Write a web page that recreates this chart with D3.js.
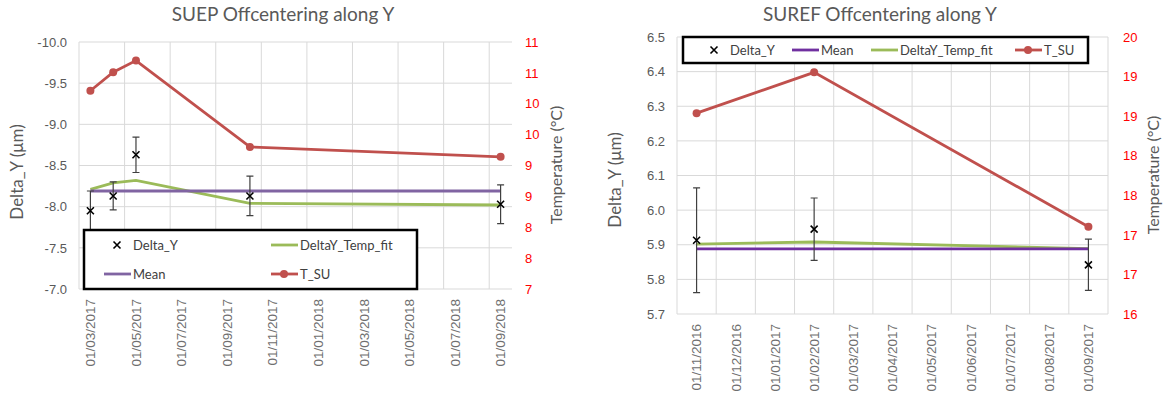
<!DOCTYPE html>
<html>
<head>
<meta charset="utf-8">
<script src="https://cdn.jsdelivr.net/npm/d3@7"></script>
<style>
  body { margin: 0; background: #fff; }
  svg { font-family: Lato, 'Open Sans', sans-serif; }
</style>
</head>
<body>
<script>
// ---- SUEP chart data ----
var suepMonths = ['03/2017', '04/2017', '05/2017', '06/2017', '07/2017', '08/2017', '09/2017',
  '10/2017', '11/2017', '12/2017', '01/2018', '02/2018', '03/2018', '04/2018', '05/2018',
  '06/2018', '07/2018', '08/2018', '09/2018'];
var suepTickLabels = ['01/03/2017', '01/05/2017', '01/07/2017', '01/09/2017', '01/11/2017',
  '01/01/2018', '01/03/2018', '01/05/2018', '01/07/2018', '01/09/2018'];
var suepDates = ['01/03/2017', '01/04/2017', '01/05/2017', '01/10/2017', '01/09/2018'];
var suepDeltaY = [-7.95, -8.13, -8.63, -8.13, -8.03];
var suepErr = [0.24, 0.17, 0.215, 0.24, 0.235];
var suepMean = [-8.19, -8.19];
var suepFit = [-8.21, -8.29, -8.32, -8.04, -8.02];
var suepTemp = [10.21, 10.51, 10.70, 9.30, 9.14];
var suepYTicks = [-10, -9.5, -9, -8.5, -8, -7.5, -7];
var suepTTicks = [7, 7.5, 8, 8.5, 9, 9.5, 10, 10.5, 11];

// ---- SUREF chart data ----
var surefMonths = ['11/2016', '12/2016', '01/2017', '02/2017', '03/2017', '04/2017', '05/2017',
  '06/2017', '07/2017', '08/2017', '09/2017'];
var surefTickLabels = ['01/11/2016', '01/12/2016', '01/01/2017', '01/02/2017', '01/03/2017',
  '01/04/2017', '01/05/2017', '01/06/2017', '01/07/2017', '01/08/2017', '01/09/2017'];
var surefDates = ['01/11/2016', '01/02/2017', '01/09/2017'];
var surefDeltaY = [5.913, 5.945, 5.842];
var surefErr = [0.151, 0.09, 0.074];
var surefMean = [5.888, 5.888];
var surefFit = [5.902, 5.908, 5.889];
var surefTemp = [18.90, 19.49, 17.26];
var surefYTicks = [5.7, 5.8, 5.9, 6.0, 6.1, 6.2, 6.3, 6.4, 6.5];
var surefTTicks = [16, 16.571, 17.143, 17.714, 18.286, 18.857, 19.429, 20];

var red = '#c0504d', green = '#9bbb59';
var gridColor = '#d9d9d9', textColor = '#595959';

var svg = d3.select('body').append('svg')
  .attr('width', 1169)
  .attr('height', 402);

function drawX(g, cx, cy) {
  g.append('path')
    .attr('d', 'M' + (cx - 3.5) + ',' + (cy - 3.5) + 'L' + (cx + 3.5) + ',' + (cy + 3.5) +
      'M' + (cx - 3.5) + ',' + (cy + 3.5) + 'L' + (cx + 3.5) + ',' + (cy - 3.5))
    .attr('stroke', '#000')
    .attr('stroke-width', 1.6);
}

function drawChart(c) {
  var g = svg.append('g');
  var x = d3.scaleBand().domain(c.months).range([c.left, c.right]);
  var xc = function (d) { return x(d.substring(3)) + x.bandwidth() / 2; };
  var y = d3.scaleLinear().domain(c.yDomain).range([c.top, c.bottom]);
  var t = d3.scaleLinear().domain(c.tDomain).range([c.bottom, c.top]);

  // grid
  g.selectAll(null).data(c.yTicks).enter().append('line')
    .attr('x1', c.left).attr('x2', c.right)
    .attr('y1', function (d) { return y(d); })
    .attr('y2', function (d) { return y(d); })
    .attr('stroke', gridColor).attr('stroke-width', 1);
  var vg = c.tickLabels.map(function (d) { return x(d.substring(3)); });
  if (c.rightEdge) vg.push(c.right);
  g.selectAll(null).data(vg).enter().append('line')
    .attr('x1', function (d) { return d; }).attr('x2', function (d) { return d; })
    .attr('y1', c.top).attr('y2', c.bottom)
    .attr('stroke', gridColor).attr('stroke-width', 1);

  // axes
  var ya = g.append('g')
    .attr('transform', 'translate(' + c.left + ',0)')
    .call(d3.axisLeft(y).tickValues(c.yTicks).tickSize(0).tickPadding(12)
      .tickFormat(function (d) { return d.toFixed(1); }));
  ya.select('.domain').remove();
  ya.selectAll('text').attr('fill', textColor).style('font-size', '13px');

  var ta = g.append('g')
    .attr('transform', 'translate(' + c.right + ',0)')
    .call(d3.axisRight(t).tickValues(c.tTicks).tickSize(0).tickPadding(c.tPad)
      .tickFormat(function (d) { return Math.round(d); }));
  ta.select('.domain').remove();
  ta.selectAll('text').attr('fill', '#ff0000').style('font-size', '13px');

  var xa = g.append('g')
    .attr('transform', 'translate(0,' + c.bottom + ')')
    .call(d3.axisBottom(x).tickValues(c.tickLabels.map(function (d) { return d.substring(3); }))
      .tickSize(0)
      .tickFormat(function (d) { return '01/' + d; }));
  xa.select('.domain').remove();
  xa.selectAll('text')
    .attr('transform', 'rotate(-90)')
    .attr('x', -10).attr('y', 0).attr('dy', '0.35em')
    .style('text-anchor', 'end')
    .attr('fill', '#6f6f6f').style('font-size', '13.5px');

  // fit line
  var line = d3.line()
    .x(function (d) { return xc(d[0]); })
    .y(function (d) { return d[1]; });
  g.append('path')
    .attr('d', line(c.dates.map(function (d, i) { return [d, y(c.fit[i])]; })))
    .attr('fill', 'none').attr('stroke', green).attr('stroke-width', 2.8);
  // mean line
  g.append('path')
    .attr('d', line([[c.dates[0], y(c.mean[0])], [c.dates[c.dates.length - 1], y(c.mean[1])]]))
    .attr('fill', 'none').attr('stroke', c.meanColor).attr('stroke-width', 2.8);
  // temperature
  g.append('path')
    .attr('d', line(c.dates.map(function (d, i) { return [d, t(c.temp[i])]; })))
    .attr('fill', 'none').attr('stroke', red).attr('stroke-width', 2.8);
  g.selectAll(null).data(c.temp).enter().append('circle')
    .attr('cx', function (d, i) { return xc(c.dates[i]); })
    .attr('cy', function (d) { return t(d); })
    .attr('r', 4).attr('fill', red);

  // error bars + markers
  c.deltaY.forEach(function (v, i) {
    var px = xc(c.dates[i]);
    var y1 = y(v - c.err[i]), y2 = y(v + c.err[i]);
    g.append('path')
      .attr('d', 'M' + px + ',' + y1 + 'V' + y2 +
        'M' + (px - 3.5) + ',' + y1 + 'H' + (px + 3.5) +
        'M' + (px - 3.5) + ',' + y2 + 'H' + (px + 3.5))
      .attr('stroke', '#404040').attr('stroke-width', 1.2).attr('fill', 'none');
    drawX(g, px, y(v));
  });

  // legend
  var L = c.legend;
  g.append('rect')
    .attr('x', L.x).attr('y', L.y).attr('width', L.w).attr('height', L.h)
    .attr('fill', '#fff').attr('stroke', '#000').attr('stroke-width', 2.5);
  L.items.forEach(function (it) {
    if (it.kind === 'x') {
      drawX(g, it.x + 14, it.y);
    } else {
      g.append('line')
        .attr('x1', it.x).attr('x2', it.x + 27).attr('y1', it.y).attr('y2', it.y)
        .attr('stroke', it.color).attr('stroke-width', 2.8);
      if (it.kind === 'dot') {
        g.append('circle').attr('cx', it.x + 13).attr('cy', it.y).attr('r', 4).attr('fill', it.color);
      }
    }
    g.append('text')
      .attr('x', it.x + (it.kind === 'x' ? 30 : 29)).attr('y', it.y)
      .attr('dy', '0.35em')
      .attr('fill', '#404040').style('font-size', '13px')
      .text(it.label);
  });

  // titles
  g.append('text')
    .attr('x', c.titleX).attr('y', 21)
    .attr('text-anchor', 'middle')
    .attr('fill', textColor).style('font-size', '19px')
    .text(c.title);
  g.append('text')
    .attr('transform', 'translate(' + c.yTitleX + ',' + c.yTitleY + ') rotate(-90)')
    .attr('text-anchor', 'middle')
    .attr('fill', textColor).style('font-size', '17px')
    .text('Delta_Y (μm)');
  g.append('text')
    .attr('transform', 'translate(' + c.tTitleX + ',' + c.tTitleY + ') rotate(-90)')
    .attr('text-anchor', 'middle')
    .attr('fill', textColor).style('font-size', '16px')
    .text('Temperature (°C)');
}

drawChart({
  title: 'SUEP Offcentering along Y', titleX: 283,
  left: 79, right: 512, top: 42, bottom: 289,
  months: suepMonths, tickLabels: suepTickLabels, rightEdge: false,
  dates: suepDates, deltaY: suepDeltaY, err: suepErr, mean: suepMean,
  fit: suepFit, temp: suepTemp,
  yDomain: [-10, -7], yTicks: suepYTicks,
  tDomain: [7, 11], tTicks: suepTTicks, tPad: 13,
  meanColor: '#8064a2',
  yTitleX: 23, yTitleY: 172, tTitleX: 562, tTitleY: 165,
  legend: {
    x: 84, y: 230, w: 333, h: 59,
    items: [
      { kind: 'x', label: 'Delta_Y', x: 103, y: 245 },
      { kind: 'line', label: 'DeltaY_Temp_fit', x: 271, y: 245, color: green },
      { kind: 'line', label: 'Mean', x: 104, y: 274, color: '#8064a2' },
      { kind: 'dot', label: 'T_SU', x: 271, y: 274, color: red }
    ]
  }
});

drawChart({
  title: 'SUREF Offcentering along Y', titleX: 880,
  left: 677, right: 1108, top: 37, bottom: 314,
  months: surefMonths, tickLabels: surefTickLabels, rightEdge: true,
  dates: surefDates, deltaY: surefDeltaY, err: surefErr, mean: surefMean,
  fit: surefFit, temp: surefTemp,
  yDomain: [6.5, 5.7], yTicks: surefYTicks,
  tDomain: [16, 20], tTicks: surefTTicks, tPad: 15,
  meanColor: '#7030a0',
  yTitleX: 621, yTitleY: 180, tTitleX: 1159, tTitleY: 175,
  legend: {
    x: 683, y: 37, w: 405, h: 26,
    items: [
      { kind: 'x', label: 'Delta_Y', x: 700, y: 50 },
      { kind: 'line', label: 'Mean', x: 792, y: 50, color: '#7030a0' },
      { kind: 'line', label: 'DeltaY_Temp_fit', x: 871, y: 50, color: green },
      { kind: 'dot', label: 'T_SU', x: 1015, y: 50, color: red }
    ]
  }
});
</script>
</body>
</html>
